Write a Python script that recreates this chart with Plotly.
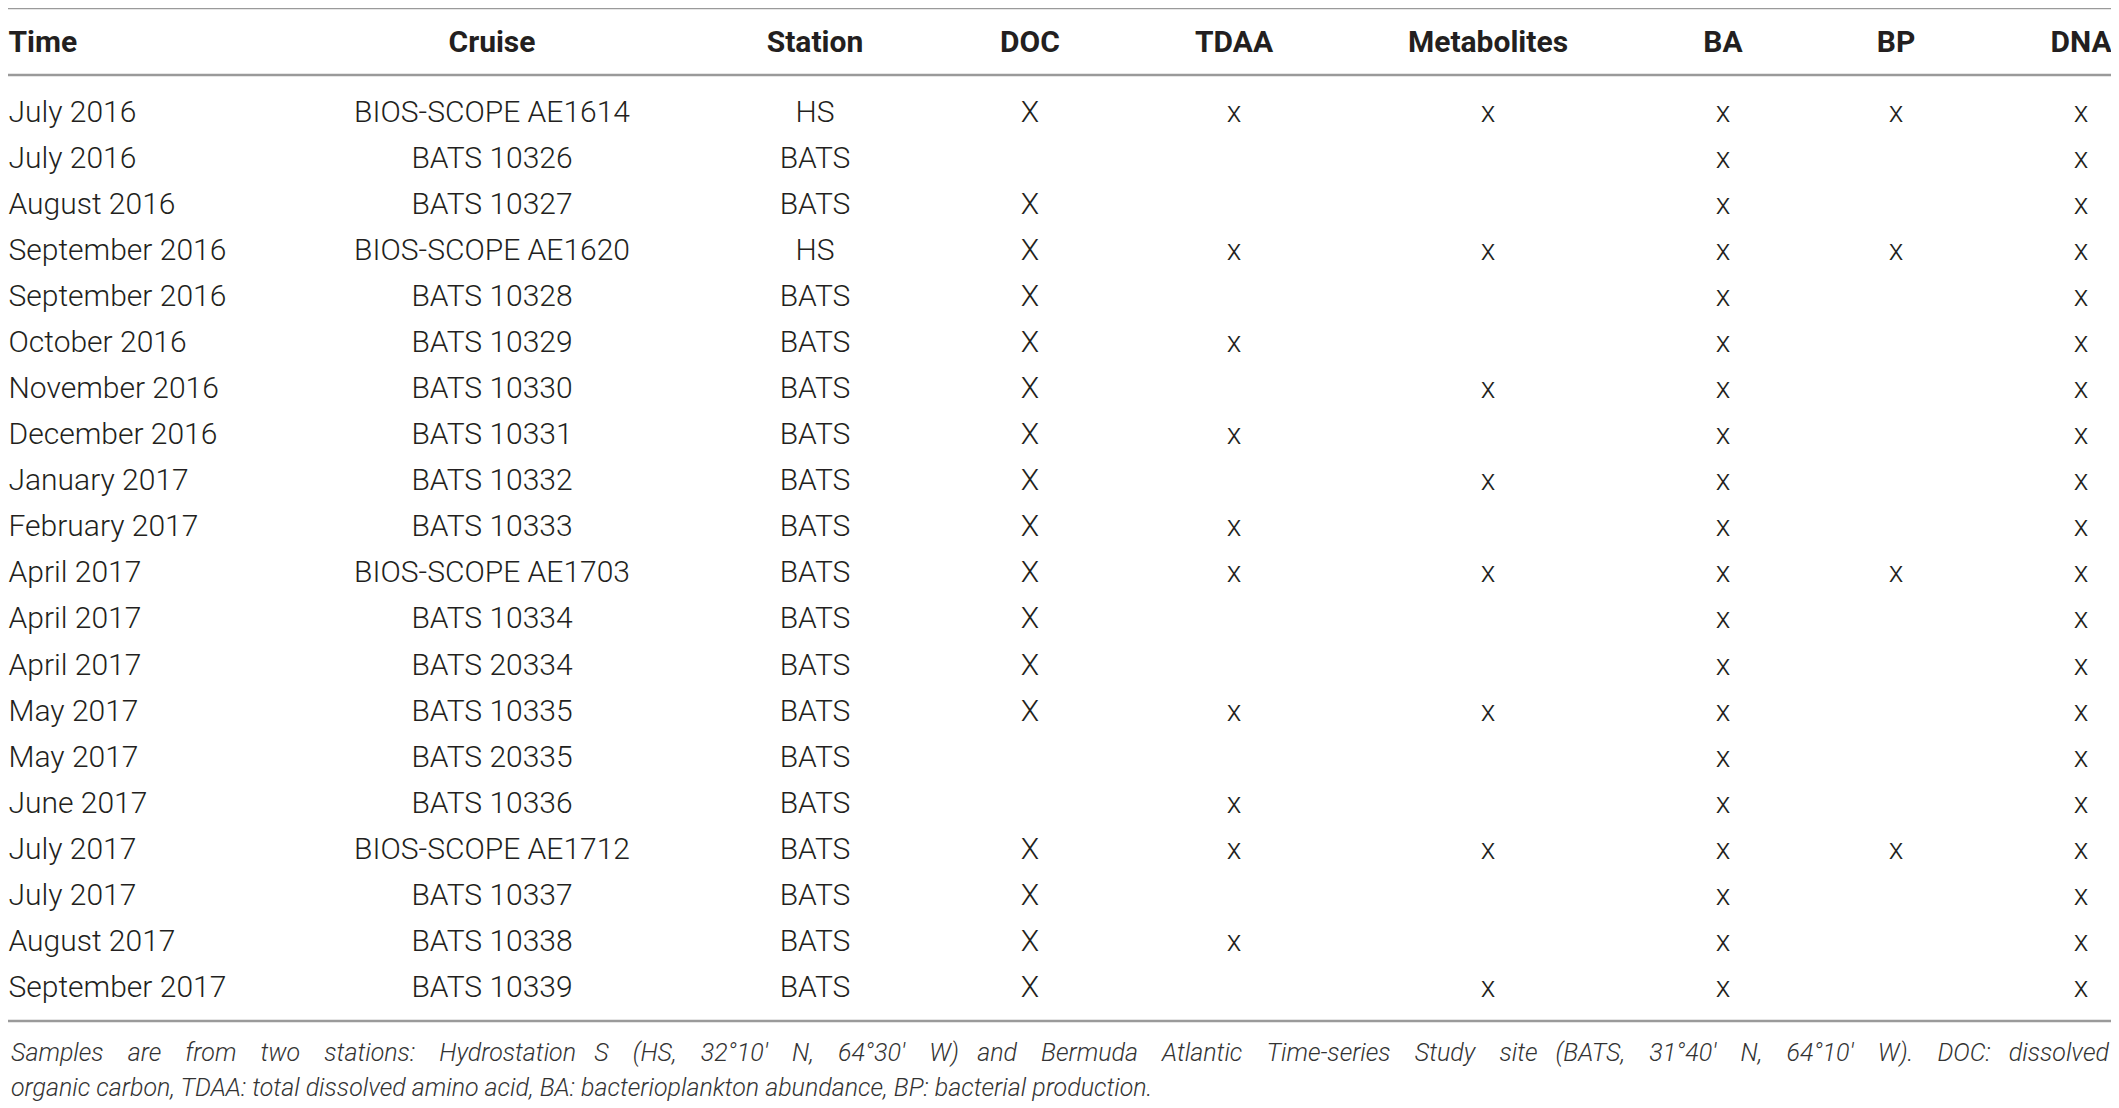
import plotly.graph_objects as go

# table contents
times = ["July 2016", "July 2016", "August 2016", "September 2016", "September 2016",
         "October 2016", "November 2016", "December 2016", "January 2017", "February 2017",
         "April 2017", "April 2017", "April 2017", "May 2017", "May 2017",
         "June 2017", "July 2017", "July 2017", "August 2017", "September 2017"]
cruises = ["BIOS-SCOPE AE1614", "BATS 10326", "BATS 10327", "BIOS-SCOPE AE1620", "BATS 10328",
           "BATS 10329", "BATS 10330", "BATS 10331", "BATS 10332", "BATS 10333",
           "BIOS-SCOPE AE1703", "BATS 10334", "BATS 20334", "BATS 10335", "BATS 20335",
           "BATS 10336", "BIOS-SCOPE AE1712", "BATS 10337", "BATS 10338", "BATS 10339"]
stations = ["HS", "BATS", "BATS", "HS"] + ["BATS"] * 16

doc         = [1, 0, 1, 1, 1, 1, 1, 1, 1, 1, 1, 1, 1, 1, 0, 0, 1, 1, 1, 1]
tdaa        = [1, 0, 0, 1, 0, 1, 0, 1, 0, 1, 1, 0, 0, 1, 0, 1, 1, 0, 1, 0]
metabolites = [1, 0, 0, 1, 0, 0, 1, 0, 1, 0, 1, 0, 0, 1, 0, 0, 1, 0, 0, 1]
ba          = [1] * 20
bp          = [1, 0, 0, 1, 0, 0, 0, 0, 0, 0, 1, 0, 0, 0, 0, 0, 1, 0, 0, 0]
dna         = [1] * 20

headers = ["Time", "Cruise", "Station", "DOC", "TDAA", "Metabolites", "BA", "BP", "DNA"]
footnote = [
    "Samples are from two stations: Hydrostation S (HS, 32°10′ N, 64°30′ W) and Bermuda "
    "Atlantic Time-series Study site (BATS, 31°40′ N, 64°10′ W). DOC: dissolved",
    "organic carbon, TDAA: total dissolved amino acid, BA: bacterioplankton abundance, "
    "BP: bacterial production.",
]

# layout, in page pixels (body has an 8px margin)
W, H = 2119, 1108
OFF = 8
col_x = [8.5, 492, 815, 1030, 1234, 1488, 1723, 1896, 2081]
header_y = 44
row0_y = 114
row_h = 46.09
line_col = "#9a9a9a"
txt_col = "#231f20"
font = "Roboto"
fs = 30
foot_fs = 25


def justify(line):
    # widen word gaps so the first footnote line spans the full table width
    words = line.split(" ")
    out = words[0]
    for i, w in enumerate(words[1:]):
        out += " " + "\u00a0" * (2 if i % 6 == 5 else 3) + w
    return out


n = len(times)
row_y = [row0_y + i * row_h for i in range(n)]

columns = [times, cruises, stations]
for vals, glyph in [(doc, "X"), (tdaa, "x"), (metabolites, "x"), (ba, "x"), (bp, "x"), (dna, "x")]:
    columns.append([glyph if v else "" for v in vals])

fig = go.Figure()
for j, vals in enumerate(columns):
    pos = "middle right" if j == 0 else "middle center"
    fig.add_trace(go.Scatter(
        x=[col_x[j]] * n, y=row_y, text=vals, mode="text", textposition=pos,
        textfont=dict(family=font, size=fs, color=txt_col, weight=300),
        hoverinfo="skip", showlegend=False, cliponaxis=False))
    fig.add_trace(go.Scatter(
        x=[col_x[j]], y=[header_y], text=[headers[j]], mode="text", textposition=pos,
        textfont=dict(family=font, size=fs, color=txt_col, weight="bold"),
        hoverinfo="skip", showlegend=False, cliponaxis=False))

# rules
fig.add_shape(type="line", x0=OFF, x1=2112, y0=1, y1=1, xref="x", yref="paper",
              line=dict(color=line_col, width=2.5))
for yy in [75, 1021]:
    fig.add_shape(type="line", x0=OFF, x1=2112, y0=yy, y1=yy, xref="x", yref="y",
                  line=dict(color=line_col, width=2.5))

for txt, yy in zip([justify(footnote[0]), footnote[1]], [1052, 1087]):
    fig.add_annotation(x=8.5, y=yy, xref="x", yref="y", text=txt, showarrow=False,
                       xanchor="left", yanchor="middle", align="left",
                       font=dict(family=font, size=foot_fs, color="#333333",
                                 style="italic", weight=300))

fig.update_layout(
    width=W - OFF, height=H - OFF, margin=dict(l=0, r=0, t=0, b=0),
    plot_bgcolor="white", paper_bgcolor="white",
    xaxis=dict(range=[OFF, W], visible=False, fixedrange=True),
    yaxis=dict(range=[H, OFF], visible=False, fixedrange=True),
)

fig.write_html("out.html")
